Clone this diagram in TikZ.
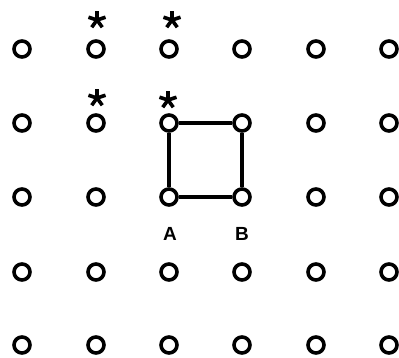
\documentclass[tikz,border=0pt]{standalone}
\usepackage{fontspec}
\setmainfont{Liberation Sans}
\begin{document}
\begin{tikzpicture}[x=1pt,y=-1pt,
  site/.style={circle,draw,line width=3.6pt,minimum size=16pt,inner sep=0pt},
  bond/.style={line width=3.4pt},
  lbl/.style={font=\fontsize{19}{19}\selectfont\bfseries,inner sep=0pt},
  starline/.style={line width=3.6pt}]
\useasboundingbox (0,0) rectangle (399,358);
\foreach \c/\x in {1/22,2/96,3/169,4/242,5/316,6/389}{
  \foreach \r/\y in {1/49,2/123,3/197,4/272,5/345}{
    \node[site] (c\c-\r) at (\x,\y) {};
  }
}
\draw[bond] (c3-2) -- (c4-2) -- (c4-3) -- (c3-3) -- (c3-2);
\node[lbl] (A) at (170,234) {A};
\node[lbl] (B) at (242,234) {B};
\foreach \n/\sx/\sy in {s1/97/20,s2/172/20,s3/97/98,s4/168/100}{
  \coordinate (\n) at (\sx,\sy);
  \foreach \a in {90,18,162,234,306}{
    \draw[starline] (\n) -- ++(\a:-9);
  }
}
\end{tikzpicture}
\end{document}
